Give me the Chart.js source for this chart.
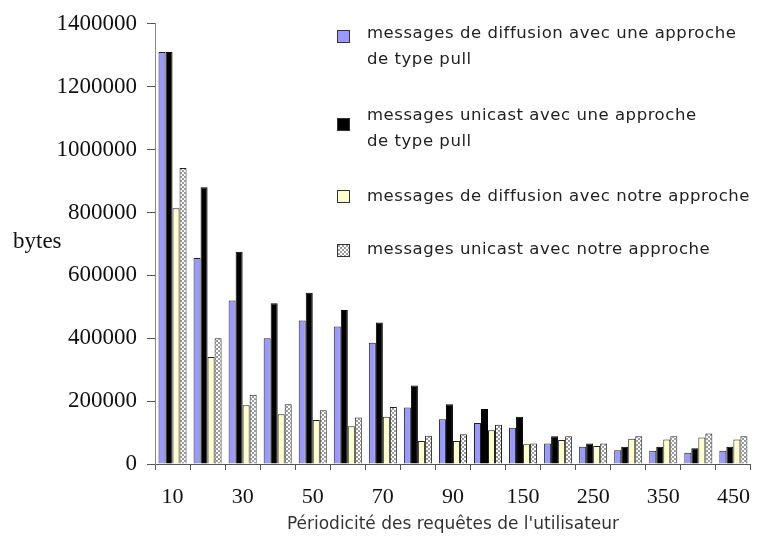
<!DOCTYPE html>
<html><head><meta charset="utf-8">
<script src="https://cdn.jsdelivr.net/npm/chart.js@4/dist/chart.umd.min.js"></script>
<style>
html,body{margin:0;padding:0;background:#fff;}
#wrap{position:relative;width:764px;height:545px;overflow:hidden;}
#c{position:absolute;left:0;top:0;}
.leg{position:absolute;left:367px;font-family:"DejaVu Sans";font-size:16.5px;color:#222;line-height:26px;white-space:nowrap;letter-spacing:0.55px;}
.sw{position:absolute;left:337px;width:11px;height:11px;border:1px solid #333;box-sizing:content-box;}
#bytes{position:absolute;left:13px;top:228px;font-family:"Liberation Serif";font-size:23px;color:#111;}
</style></head>
<body>
<div id="wrap">
<canvas id="c" width="764" height="545"></canvas>
<div id="bytes">bytes</div>
<div class="sw" style="top:30px;background:#9999ff;"></div>
<div class="leg" style="top:20px;">messages de diffusion avec une approche<br>de type pull</div>
<div class="sw" style="top:118px;background:#000;"></div>
<div class="leg" style="top:102px;">messages unicast avec une approche<br>de type pull</div>
<div class="sw" style="top:190px;background:#ffffcc;"></div>
<div class="leg" style="top:183px;">messages de diffusion avec notre approche</div>
<div class="sw" id="sw4" style="top:244px;"></div>
<div class="leg" style="top:236px;">messages unicast avec notre approche</div>
</div>
<script>
const categories = ['10','20','30','40','50','60','70','80','90','100','150','200','250','300','350','400','450'];
const diffusionPull = [1310000, 655000, 520000, 400000, 456000, 437000, 386000, 180000, 142000, 130000, 115000, 65000, 55000, 44000, 42000, 36000, 42000];
const unicastPull   = [1310000, 880000, 675000, 511000, 545000, 490000, 450000, 250000, 190000, 175000, 150000, 88000, 65000, 55000, 55000, 50000, 55000];
const diffusionOurs = [813000, 340000, 187000, 158000, 140000, 120000, 150000, 73000, 73000, 107000, 63000, 76000, 57000, 80000, 78000, 84000, 78000];
const unicastOurs   = [941000, 400000, 220000, 190000, 171000, 148000, 181000, 90000, 95000, 125000, 65000, 88000, 65000, 88000, 88000, 97000, 88000];
const seriesNames = ['messages de diffusion avec une approche de type pull','messages unicast avec une approche de type pull','messages de diffusion avec notre approche','messages unicast avec notre approche'];

function makePattern(){
  const p = document.createElement('canvas'); p.width = 4; p.height = 4;
  const g = p.getContext('2d');
  g.fillStyle = '#ffffff'; g.fillRect(0,0,4,4);
  g.fillStyle = '#9a9a9a'; g.fillRect(0,0,2,2); g.fillRect(2,2,2,2);
  return p;
}
const pcan = makePattern();
document.getElementById('sw4').style.background = 'url(' + pcan.toDataURL() + ')';
const ctx = document.getElementById('c').getContext('2d');
const pattern = ctx.createPattern(pcan, 'repeat');

new Chart(ctx, {
  type: 'bar',
  data: {
    labels: categories,
    datasets: [
      {label: seriesNames[0], data: diffusionPull, backgroundColor: '#9999ff', borderColor: '#222', borderWidth: 1},
      {label: seriesNames[1], data: unicastPull, backgroundColor: '#000000', borderColor: '#000', borderWidth: 1},
      {label: seriesNames[2], data: diffusionOurs, backgroundColor: '#ffffcc', borderColor: '#222', borderWidth: 1},
      {label: seriesNames[3], data: unicastOurs, backgroundColor: pattern, borderColor: '#222', borderWidth: 1}
    ]
  },
  options: {
    responsive: false,
    animation: false,
    devicePixelRatio: 1,
    layout: {padding: {top: 22, right: 4, bottom: 0, left: 0}},
    plugins: {legend: {display: false}, tooltip: {enabled: false}},
    datasets: {bar: {categoryPercentage: 0.8, barPercentage: 1.0}},
    scales: {
      x: {
        afterFit: s => { s.height = 81; },
        grid: {offset: true, drawOnChartArea: false, tickLength: 6, color: '#555'},
        border: {color: '#555'},
        ticks: {autoSkip: false, maxRotation: 0, padding: 14, color: '#111',
          font: {family: 'Liberation Serif', size: 22},
          callback: (v, i) => (i % 2 === 0 ? categories[i] : '')},
        title: {display: true, text: "Périodicité des requêtes de l'utilisateur", color: '#333',
          font: {family: 'DejaVu Sans', size: 17}, padding: {top: 0, bottom: 10}}
      },
      y: {
        min: 0, max: 1400000,
        afterFit: s => { s.width = 155; },
        grid: {drawOnChartArea: false, tickLength: 8, color: '#555'},
        border: {color: '#888'},
        ticks: {stepSize: 200000, padding: 10, color: '#111',
          font: {family: 'Liberation Serif', size: 23},
          callback: v => String(v)}
      }
    }
  }
});
</script>
</body></html>
